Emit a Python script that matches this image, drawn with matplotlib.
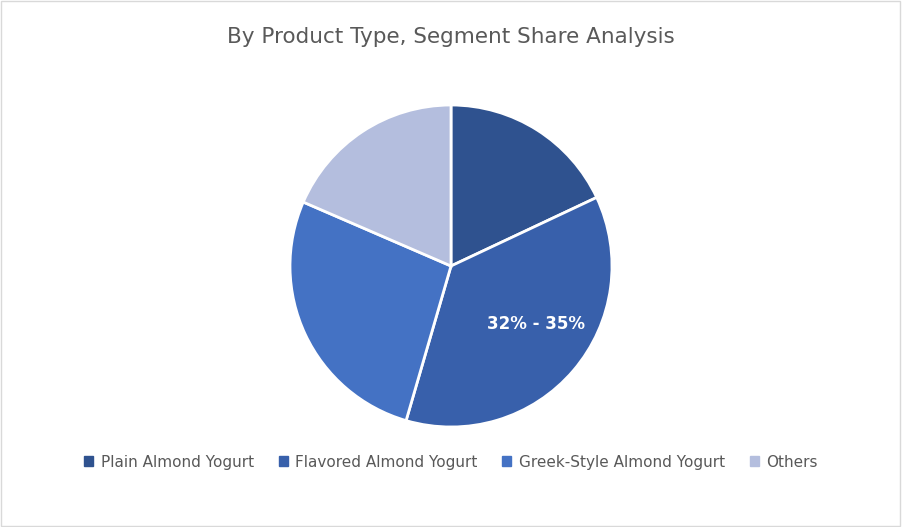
import matplotlib.pyplot as plt
from matplotlib.patches import Rectangle

title = "By Product Type, Segment Share Analysis"
categories = ["Plain Almond Yogurt", "Flavored Almond Yogurt", "Greek-Style Almond Yogurt", "Others"]
shares = [18.0, 36.5, 27.0, 18.5]
colors = ["#2F528F", "#3860AB", "#4472C4", "#B4BEDE"]
label_text = "32% - 35%"

fig = plt.figure(figsize=(9.02, 5.27), dpi=100)
fig.patches.append(Rectangle((0.001, 0.001), 0.997, 0.997, transform=fig.transFigure,
                             fill=False, edgecolor="#D9D9D9", linewidth=1))

ax = fig.add_axes([290 / 902, (527 - 266 - 161) / 527, 322 / 902, 322 / 527])
wedges, _ = ax.pie(shares, colors=colors, startangle=90, counterclock=False, radius=1,
                   wedgeprops=dict(edgecolor="white", linewidth=2))
ax.set_xlim(-1, 1)
ax.set_ylim(-1, 1)
ax.set_aspect("equal")
ax.text(0.53, -0.36, label_text, color="white", fontsize=12, fontweight="bold",
        ha="center", va="center", family="DejaVu Sans")

fig.text(0.5, 0.93, title, ha="center", va="center", fontsize=15.5, color="#595959")

handles = [Rectangle((0, 0), 1, 1, color=c) for c in colors]
fig.legend(handles, categories, loc="center", bbox_to_anchor=(0.5, 0.123), ncol=4,
           frameon=False, fontsize=11, handlelength=0.6, handleheight=0.6,
           columnspacing=1.6, handletextpad=0.5, labelcolor="#595959")

fig.savefig("out.png", dpi=100)
